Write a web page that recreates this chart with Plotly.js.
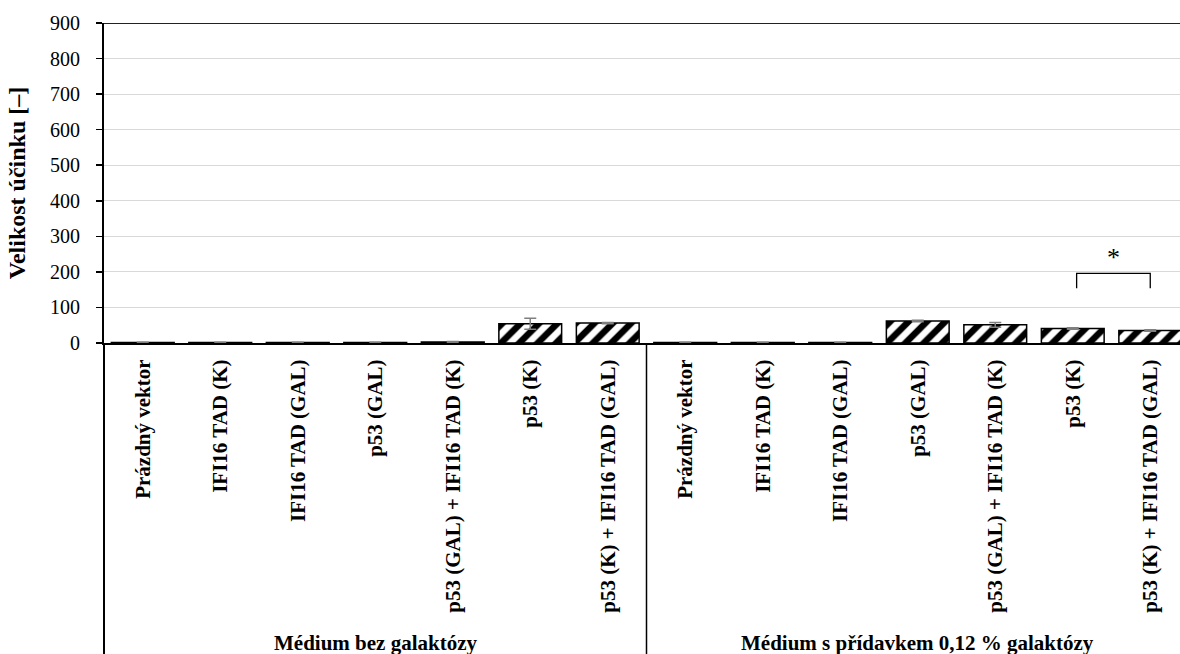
<!DOCTYPE html>
<html>
<head>
<meta charset="utf-8">
<script src="https://cdn.plot.ly/plotly-3.0.1.min.js"></script>
<style>
html,body{margin:0;padding:0;overflow:hidden;background:#fff;}
#chart{width:1180px;height:654px;}
</style>
</head>
<body>
<div id="chart"></div>
<script>
// Category labels (two groups of seven)
const categoryLabels = [
  "Prázdný vektor", "IFI16 TAD (K)", "IFI16 TAD (GAL)", "p53 (GAL)",
  "p53 (GAL) + IFI16 TAD (K)", "p53 (K)", "p53 (K) + IFI16 TAD (GAL)",
  "Prázdný vektor", "IFI16 TAD (K)", "IFI16 TAD (GAL)", "p53 (GAL)",
  "p53 (GAL) + IFI16 TAD (K)", "p53 (K)", "p53 (K) + IFI16 TAD (GAL)"
];
const groupLabels = ["Médium bez galaktózy", "Médium s přídavkem 0,12 % galaktózy"];

// Values
const valuesNoGal = [1.5, 1.5, 1.5, 1.5, 3, 54, 56];
const errorsNoGal = [0.5, 0.5, 0.5, 0.5, 1, 15.5, 2];
const valuesGal = [1.5, 1.5, 1.5, 62, 51, 41, 35];
const errorsGal = [0.5, 0.5, 0.5, 2, 7, 2, 2];

const yTicks = [0, 100, 200, 300, 400, 500, 600, 700, 800, 900];

const values = valuesNoGal.concat(valuesGal);
const errors = errorsNoGal.concat(errorsGal);
const xPos = categoryLabels.map((_, i) => i);

const FONT = "'Liberation Serif', 'Times New Roman', serif";
const FS = 20;

const trace = {
  type: "bar",
  x: xPos,
  y: values,
  width: 0.81,
  marker: {
    color: "white",
    line: {color: "black", width: 1.5},
    pattern: {shape: "/", fgcolor: "black", bgcolor: "white", size: 13, solidity: 0.5, fillmode: "replace"}
  },
  error_y: {type: "data", array: errors, visible: true, color: "#7f7f7f", thickness: 1.5, width: 6},
  hoverinfo: "skip",
  showlegend: false
};

const plotH = 654 - 23 - 311;
const layout = {
  width: 1180,
  height: 654,
  margin: {l: 104, r: 0, t: 23, b: 311, pad: 0},
  paper_bgcolor: "white",
  plot_bgcolor: "white",
  font: {family: FONT, color: "black", size: FS},
  bargap: 0.19,
  xaxis: {
    range: [-0.5, -0.5 + 1076 / 77.5],
    tickmode: "array",
    tickvals: xPos,
    ticktext: categoryLabels.map(t => "<b>" + t + "</b>"),
    tickangle: -90,
    tickfont: {family: FONT, size: 21, color: "black"},
    ticks: "",
    ticklabelstandoff: 6,
    showgrid: false,
    zeroline: false,
    showline: true,
    linecolor: "black",
    linewidth: 2,
    fixedrange: true
  },
  yaxis: {
    range: [0, 900],
    tickmode: "array",
    tickvals: yTicks,
    ticktext: yTicks.map(String),
    ticks: "outside",
    ticklen: 6,
    tickwidth: 1.5,
    tickcolor: "black",
    ticklabelstandoff: 12,
    tickfont: {family: FONT, size: FS, color: "black"},
    showgrid: true,
    gridcolor: "#d9d9d9",
    gridwidth: 1.2,
    zeroline: false,
    showline: true,
    linecolor: "black",
    linewidth: 2,
    title: {text: "<b>Velikost účinku [–]</b>", font: {family: FONT, size: 24, color: "black"}, standoff: 18},
    fixedrange: true
  },
  shapes: [
    // top line at 900
    {type: "line", xref: "paper", yref: "y", x0: 0, x1: 1, y0: 900, y1: 900, line: {color: "#222", width: 1.8}},
    // left axis extension through label area
    {type: "line", xref: "paper", yref: "paper", x0: 0, x1: 0, y0: 0, y1: -1.2, line: {color: "black", width: 2}},
    // group divider
    {type: "line", xref: "x", yref: "paper", x0: 6.5, x1: 6.5, y0: 0, y1: -1.2, line: {color: "black", width: 1.5}},
    // significance bracket
    {type: "path", xref: "x", yref: "y", path: "M 12.05,154 L 12.05,196 L 13.0,196 L 13.0,154", line: {color: "black", width: 1.3}}
  ],
  annotations: [
    {xref: "x", yref: "paper", x: 3, y: (343 - 643) / plotH, text: "<b>" + groupLabels[0] + "</b>", showarrow: false, xanchor: "center", yanchor: "middle", font: {family: FONT, size: 21, color: "black"}},
    {xref: "x", yref: "paper", x: 10, y: (343 - 643) / plotH, text: "<b>" + groupLabels[1] + "</b>", showarrow: false, xanchor: "center", yanchor: "middle", font: {family: FONT, size: 21, color: "black"}},
    {xref: "x", yref: "y", x: 12.52, y: 240, text: "*", showarrow: false, xanchor: "center", yanchor: "middle", font: {family: FONT, size: 26, color: "black"}}
  ]
};

Plotly.newPlot("chart", [trace], layout, {displayModeBar: false, staticPlot: true});
</script>
</body>
</html>
